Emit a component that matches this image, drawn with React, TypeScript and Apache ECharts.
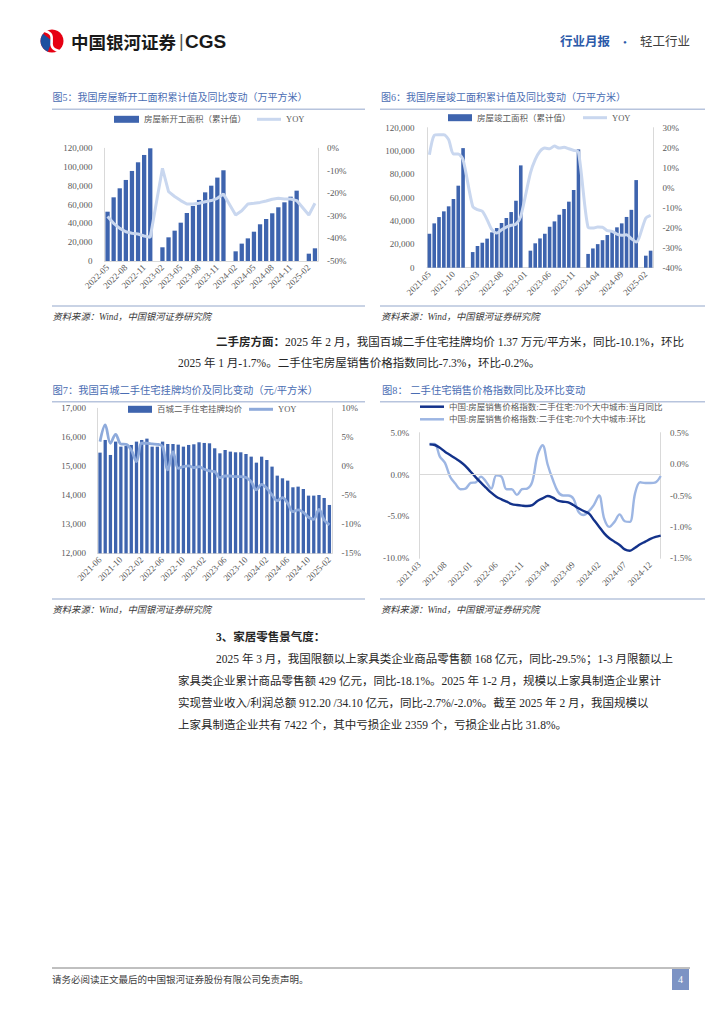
import React, { useEffect, useRef } from "react";
import * as echarts from "echarts";

const SERIF = "'Liberation Serif', 'Noto Sans CJK SC', serif";
const CJK = "'Liberation Serif', 'Noto Sans CJK SC', sans-serif";
const SANS = "'Noto Sans CJK SC', 'Liberation Sans', sans-serif";

// ---------- 图5 房屋新开工面积 ----------
const months5 = [
  "2022-05", "2022-06", "2022-07", "2022-08", "2022-09", "2022-10", "2022-11", "2022-12",
  "2023-01", "2023-02", "2023-03", "2023-04", "2023-05", "2023-06", "2023-07", "2023-08", "2023-09", "2023-10", "2023-11", "2023-12",
  "2024-01", "2024-02", "2024-03", "2024-04", "2024-05", "2024-06", "2024-07", "2024-08", "2024-09", "2024-10", "2024-11", "2024-12",
  "2025-01", "2025-02", "2025-03",
];
const newStartArea = [
  52500, 67800, 77400, 86300, 95900, 105100, 112900, 120000,
  null, 14600, 25200, 32300, 40800, 51100, 58600, 65000, 73100, 80200, 88800, 96600,
  null, 10300, 18500, 24100, 31200, 39100, 44700, 50800, 57200, 62500, 68500, 74900,
  null, 7800, 13500,
];
const newStartYoy = [
  -30.3, -33.3, -35.5, -37.0, -37.7, -38.0, -38.9, -39.5,
  null, -8.9, -19.2, -21.4, -23.2, -24.7, -24.7, -24.4, -23.7, -23.2, -22.2, -20.3,
  null, -29.6, -27.7, -24.7, -24.4, -24.0, -23.4, -22.6, -22.2, -22.5, -22.5, -23.2,
  null, -29.6, -24.4,
];

// ---------- 图6 房屋竣工面积 ----------
const months6 = [
  "2021-05", "2021-06", "2021-07", "2021-08", "2021-09", "2021-10", "2021-11", "2021-12",
  "2022-01", "2022-02", "2022-03", "2022-04", "2022-05", "2022-06", "2022-07", "2022-08", "2022-09", "2022-10", "2022-11", "2022-12",
  "2023-01", "2023-02", "2023-03", "2023-04", "2023-05", "2023-06", "2023-07", "2023-08", "2023-09", "2023-10", "2023-11", "2023-12",
  "2024-01", "2024-02", "2024-03", "2024-04", "2024-05", "2024-06", "2024-07", "2024-08", "2024-09", "2024-10", "2024-11", "2024-12",
  "2025-01", "2025-02", "2025-03",
];
const completedArea = [
  29100, 38000, 43400, 48300, 52600, 58900, 70300, 102500,
  null, 13400, 18600, 21400, 24900, 30300, 34000, 38300, 42600, 47700, 57400, 87700,
  null, 14600, 20900, 25100, 29100, 35100, 39700, 45400, 50300, 56600, 66600, 101400,
  null, 11800, 16500, 20200, 23600, 28000, 31000, 34600, 38000, 43500, 49600, 75100,
  null, 10300, 14600,
];
const completedYoy = [
  16.5, 26.2, 26.5, 26.5, 24.0, 16.8, 16.8, 14.0,
  null, -9.3, -11.0, -11.8, -16.0, -21.0, -22.7, -21.0, -19.7, -18.8, -18.2, -14.3,
  null, 7.3, 14.0, 18.2, 19.8, 19.5, 20.8, 19.8, 20.2, 19.5, 18.7, 17.8,
  null, -19.8, -20.2, -19.7, -19.8, -21.5, -21.8, -23.2, -23.8, -23.5, -25.5, -27.2,
  null, -15.2, -13.8,
];

// ---------- 图7 百城二手住宅挂牌均价 ----------
const months7 = [
  "2021-06", "2021-07", "2021-08", "2021-09", "2021-10", "2021-11", "2021-12",
  "2022-01", "2022-02", "2022-03", "2022-04", "2022-05", "2022-06", "2022-07", "2022-08", "2022-09", "2022-10", "2022-11", "2022-12",
  "2023-01", "2023-02", "2023-03", "2023-04", "2023-05", "2023-06", "2023-07", "2023-08", "2023-09", "2023-10", "2023-11", "2023-12",
  "2024-01", "2024-02", "2024-03", "2024-04", "2024-05", "2024-06", "2024-07", "2024-08", "2024-09", "2024-10", "2024-11", "2024-12",
  "2025-01", "2025-02",
];
const listingPrice = [
  15471, 15908, 15391, 15851, 15678, 15701, 15736,
  15851, 15908, 15954, 15678, 15678, 15851, 15770, 15770, 15747, 15678, 15736, 15759,
  15828, 15805, 15793, 15621, 15448, 15563, 15506, 15483, 15483, 15425, 15333, 15126,
  15333, 15218, 14989, 14678, 14586, 14506, 14276, 14299, 14218, 13989, 13989, 14011,
  13908, 13667,
];
const listingYoy = [
  4.25, 7.13, 3.97, 5.52, 3.85, 3.79, 2.82,
  0.8, 3.97, 3.97, 3.85, 3.79, 3.39, -0.63, 2.53, -0.34, -0.06, 0.06, -0.23,
  -0.06, -0.52, -0.8, -0.92, -1.95, -1.67, -1.67, -1.78, -1.78, -1.95, -2.64, -4.08,
  -3.1, -3.79, -4.94, -5.92, -5.4, -6.38, -7.82, -7.53, -7.93, -8.79, -9.14, -7.41,
  -9.25, -10.11,
];

// ---------- 图8 二手住宅销售价格指数 ----------
const months8 = [
  "2021-03", "2021-04", "2021-05", "2021-06", "2021-07", "2021-08", "2021-09", "2021-10", "2021-11", "2021-12",
  "2022-01", "2022-02", "2022-03", "2022-04", "2022-05", "2022-06", "2022-07", "2022-08", "2022-09", "2022-10", "2022-11", "2022-12",
  "2023-01", "2023-02", "2023-03", "2023-04", "2023-05", "2023-06", "2023-07", "2023-08", "2023-09", "2023-10", "2023-11", "2023-12",
  "2024-01", "2024-02", "2024-03", "2024-04", "2024-05", "2024-06", "2024-07", "2024-08", "2024-09", "2024-10", "2024-11", "2024-12",
  "2025-01", "2025-02",
];
const indexYoy = [
  null, null, 3.61, 3.53, 3.21, 2.73, 2.34, 1.94, 1.54, 1.02,
  0.34, -0.33, -0.97, -1.57, -2.16, -2.64, -2.96, -3.24, -3.52, -3.64, -3.71, -3.75,
  -3.64, -3.16, -2.84, -2.56, -2.76, -3.12, -3.24, -3.32, -3.64, -4.03, -4.35, -4.63,
  -5.43, -6.22, -7.02, -7.61, -8.01, -8.41, -8.93, -9.09, -8.73, -8.33, -8.01, -7.69,
  -7.45, -7.3,
];
const indexMom = [
  null, null, 0.32, 0.32, 0.12, 0.02, -0.2, -0.31, -0.4, -0.39,
  -0.3, -0.29, -0.2, -0.28, -0.39, -0.18, -0.2, -0.4, -0.4, -0.49, -0.4, -0.39,
  -0.28, 0.14, 0.3, -0.01, -0.25, -0.44, -0.5, -0.5, -0.55, -0.76, -0.81, -0.75,
  -0.65, -0.5, -0.87, -1.0, -0.92, -0.8, -0.91, -0.92, -0.47, -0.29, -0.3, -0.3,
  -0.29, -0.19,
];

const S5_BAR = "房屋新开工面积（累计值）";
const S6_BAR = "房屋竣工面积（累计值）";
const S7_BAR = "百城二手住宅挂牌均价";
const S8_A = "中国:房屋销售价格指数:二手住宅:70个大中城市:当月同比";
const S8_B = "中国:房屋销售价格指数:二手住宅:70个大中城市:环比";

const BAR_BLUE = "#3e64ae";
const PALE = "#c9d7ef";
const MID = "#8eaadb";
const NAVY = "#13328a";
const LIGHT8 = "#9db6e3";
const AXIS_GRAY = "#d9d9d9";
const LABEL_GRAY = "#595959";
const TITLE_BLUE = "#4a6db3";
const RULE = "#b7c4dd";
const BODY = "#262626";

const thousands = (v: number) => v.toLocaleString("en-US");

function catAxis(gridIndex: number, data: string[], interval: number, showLine = true, boundaryGap = true) {
  return {
    type: "category",
    gridIndex,
    data,
    boundaryGap,
    axisTick: { show: false },
    axisLine: { show: showLine, onZero: false, lineStyle: { color: AXIS_GRAY, width: 1 } },
    axisLabel: { interval, rotate: 45, fontSize: 9, fontFamily: SERIF, color: LABEL_GRAY, margin: 5 },
    splitLine: { show: false },
  };
}

function valAxis(gridIndex: number, position: string, min: number, max: number, interval: number, formatter: any, margin: number) {
  return {
    type: "value",
    gridIndex,
    position,
    min,
    max,
    interval,
    axisLine: { show: true, lineStyle: { color: AXIS_GRAY, width: 1 } },
    axisTick: { show: false },
    splitLine: { show: false },
    axisLabel: { formatter, fontSize: 9, fontFamily: SERIF, color: LABEL_GRAY, margin },
  };
}

function legend(left: number, cy: number, name: string, color: string, w: number, h: number) {
  return {
    left,
    top: cy - 6,
    padding: 0,
    orient: "horizontal",
    selectedMode: false,
    data: [name],
    icon: "rect",
    itemWidth: w,
    itemHeight: h,
    itemGap: 0,
    itemStyle: { color, borderWidth: 0 },
    textStyle: { fontSize: 8.5, fontFamily: CJK, color: LABEL_GRAY, lineHeight: 12 },
  };
}

function text(x: number, y: number, t: string, size: number, fill: string, extra: any = {}) {
  return {
    type: "text",
    x,
    y,
    silent: true,
    style: {
      text: t,
      fontSize: size,
      fontFamily: extra.fontFamily || CJK,
      fontWeight: extra.fontWeight || "normal",
      fontStyle: extra.fontStyle || "normal",
      fill,
      textAlign: extra.align || "left",
      textVerticalAlign: "middle",
      align: extra.align || "left",
      verticalAlign: "middle",
      rich: extra.rich,
    },
  };
}

function hline(x1: number, x2: number, y: number, color: string, w: number) {
  return { type: "line", silent: true, shape: { x1, y1: y, x2, y2: y }, style: { stroke: color, lineWidth: w } };
}

function buildOption() {
  const graphics: any[] = [];
  // header logo
  graphics.push({ type: "circle", silent: true, shape: { cx: 52, cy: 41, r: 11.5 }, style: { fill: "#e60012" } });
  graphics.push({
    type: "sector",
    silent: true,
    shape: { cx: 52, cy: 41, r: 11.5, r0: 0, startAngle: Math.PI * 0.62, endAngle: Math.PI * 1.22 },
    style: { fill: "#1d4fa0" },
  });
  graphics.push({
    type: "bezierCurve",
    silent: true,
    shape: { x1: 45, y1: 31, cpx1: 60, cpy1: 35, cpx2: 43, cpy2: 47, x2: 59, y2: 51 },
    style: { stroke: "#ffffff", lineWidth: 2.6, fill: "none" },
  });
  graphics.push(text(71, 41, "中国银河证券", 17.5, "#1a1a1a", { fontWeight: "bold", fontFamily: SANS }));
  graphics.push(text(179, 41, "|", 18, "#555555", { fontFamily: "'Liberation Sans', sans-serif" }));
  graphics.push(text(185, 41.5, "CGS", 19, "#1a1a1a", { fontWeight: "bold", fontFamily: "'Liberation Sans', 'Noto Sans', sans-serif" }));
  graphics.push(text(560, 42, "行业月报", 12.5, "#2c5aa9", { fontWeight: "bold" }));
  graphics.push(text(623, 42, "•", 11, "#2c5aa9"));
  graphics.push(text(640, 42, "轻工行业", 12.5, "#404040"));

  // figure titles & rules (top row)
  graphics.push(text(52.5, 97.3, "图5：我国房屋新开工面积累计值及同比变动（万平方米）", 10, TITLE_BLUE));
  graphics.push(text(381, 97.3, "图6：我国房屋竣工面积累计值及同比变动（万平方米）", 10, TITLE_BLUE));
  graphics.push(hline(52, 365, 109.3, RULE, 1.5));
  graphics.push(hline(380, 705, 109.3, RULE, 1.5));
  graphics.push(hline(52, 365, 306, RULE, 1.5));
  graphics.push(hline(380, 705, 306, RULE, 1.5));
  graphics.push(text(52.5, 316.5, "资料来源：Wind，中国银河证券研究院", 9.3, "#3a3a3a", { fontStyle: "italic" }));
  graphics.push(text(381, 316.5, "资料来源：Wind，中国银河证券研究院", 9.3, "#3a3a3a", { fontStyle: "italic" }));

  // paragraph 1
  graphics.push(
    text(216, 341.5, "{b|二手房方面：}2025 年 2 月，我国百城二手住宅挂牌均价 1.37 万元/平方米，同比-10.1%，环比", 11.5, BODY, {
      rich: { b: { fontWeight: "bold", fontSize: 11.5, fontFamily: CJK, fill: BODY, color: BODY } },
    })
  );
  graphics.push(text(178, 362.5, "2025 年 1 月-1.7%。二手住宅房屋销售价格指数同比-7.3%，环比-0.2%。", 11.5, BODY));

  // figure titles & rules (bottom row)
  graphics.push(text(52.5, 390.5, "图7：我国百城二手住宅挂牌均价及同比变动（元/平方米）", 10.3, TITLE_BLUE));
  graphics.push(text(382, 390.5, "图8： 二手住宅销售价格指数同比及环比变动", 10.3, TITLE_BLUE));
  graphics.push(hline(52, 365, 401.7, RULE, 1.5));
  graphics.push(hline(380, 705, 401.7, RULE, 1.5));
  graphics.push(hline(52, 365, 599, RULE, 1.5));
  graphics.push(hline(380, 705, 599, RULE, 1.5));
  graphics.push(text(52.5, 609.5, "资料来源：Wind，中国银河证券研究院", 9.3, "#3a3a3a", { fontStyle: "italic" }));
  graphics.push(text(381, 609.5, "资料来源：Wind，中国银河证券研究院", 9.3, "#3a3a3a", { fontStyle: "italic" }));

  // section 3
  graphics.push(text(216, 636.5, "3、家居零售景气度：", 11.5, BODY, { fontWeight: "bold" }));
  graphics.push(text(216, 659, "2025 年 3 月，我国限额以上家具类企业商品零售额 168 亿元，同比-29.5%；1-3 月限额以上", 11.5, BODY));
  graphics.push(text(178, 681, "家具类企业累计商品零售额 429 亿元，同比-18.1%。2025 年 1-2 月，规模以上家具制造企业累计", 11.5, BODY));
  graphics.push(text(178, 703, "实现营业收入/利润总额 912.20 /34.10 亿元，同比-2.7%/-2.0%。截至 2025 年 2 月，我国规模以", 11.5, BODY));
  graphics.push(text(178, 725, "上家具制造企业共有 7422 个，其中亏损企业 2359 个，亏损企业占比 31.8%。", 11.5, BODY));

  // footer
  graphics.push(hline(52, 690, 968, "#808080", 1));
  graphics.push(text(52, 980, "请务必阅读正文最后的中国银河证券股份有限公司免责声明。", 9.5, "#404040"));
  graphics.push({ type: "rect", silent: true, shape: { x: 672, y: 969, width: 17, height: 21 }, style: { fill: "#7c93c4" } });
  graphics.push(text(680.5, 979.5, "4", 10, "#ffffff", { align: "center", fontFamily: SERIF }));

  return {
    animation: false,
    backgroundColor: "#ffffff",
    grid: [
      { left: 104.5, top: 148.3, width: 213.5, height: 112.7 },
      { left: 427, top: 127.7, width: 226, height: 140 },
      { left: 97.4, top: 408.3, width: 234.6, height: 145 },
      { left: 419.3, top: 432.7, width: 241.4, height: 125.6 },
    ],
    xAxis: [
      catAxis(0, months5, 2),
      catAxis(1, months6, 4),
      catAxis(2, months7, 3),
      catAxis(3, months8, 4, false, false),
    ],
    yAxis: [
      valAxis(0, "left", 0, 120000, 20000, thousands, 12),
      valAxis(0, "right", -50, 0, 10, (v: number) => `${v}%`, 9),
      valAxis(1, "left", 0, 120000, 20000, thousands, 12.5),
      valAxis(1, "right", -40, 30, 10, (v: number) => `${v}%`, 9.5),
      valAxis(2, "left", 12000, 17000, 1000, thousands, 11.5),
      valAxis(2, "right", -15, 10, 5, (v: number) => `${v}%`, 9.5),
      valAxis(3, "left", -10, 5, 5, (v: number) => `${v.toFixed(1)}%`, 10),
      valAxis(3, "right", -1.5, 0.5, 0.5, (v: number) => `${v.toFixed(1)}%`, 9.3),
    ],
    legend: [
      legend(114, 119.3, S5_BAR, BAR_BLUE, 25, 7),
      legend(257, 119.3, "YOY", PALE, 24, 3),
      legend(448, 117.7, S6_BAR, BAR_BLUE, 24, 7),
      legend(583, 117.7, "YOY", PALE, 24, 3),
      legend(128, 409.3, S7_BAR, BAR_BLUE, 24, 7),
      legend(249, 409.3, "YOY", MID, 24, 3),
      legend(420, 406.7, S8_A, NAVY, 24, 2.5),
      legend(420, 419.3, S8_B, LIGHT8, 24, 2.5),
    ],
    series: [
      { type: "bar", name: S5_BAR, xAxisIndex: 0, yAxisIndex: 0, data: newStartArea, barWidth: 4.3, itemStyle: { color: BAR_BLUE } },
      {
        type: "line", name: "YOY", xAxisIndex: 0, yAxisIndex: 1, data: newStartYoy, symbol: "none", connectNulls: true,
        lineStyle: { color: PALE, width: 3 }, itemStyle: { color: PALE },
      },
      { type: "bar", name: S6_BAR, xAxisIndex: 1, yAxisIndex: 2, data: completedArea, barWidth: 3.6, itemStyle: { color: BAR_BLUE } },
      {
        type: "line", name: "YOY", xAxisIndex: 1, yAxisIndex: 3, data: completedYoy, symbol: "none", connectNulls: true, smooth: 0.25,
        lineStyle: { color: PALE, width: 3 }, itemStyle: { color: PALE },
      },
      { type: "bar", name: S7_BAR, xAxisIndex: 2, yAxisIndex: 4, data: listingPrice, barWidth: 3.3, itemStyle: { color: BAR_BLUE } },
      {
        type: "line", name: "YOY", xAxisIndex: 2, yAxisIndex: 5, data: listingYoy, symbol: "none", smooth: 0.35,
        lineStyle: { color: MID, width: 2.8 }, itemStyle: { color: MID },
      },
      {
        type: "line", name: S8_A, xAxisIndex: 3, yAxisIndex: 6, data: indexYoy, symbol: "none", smooth: 0.35,
        lineStyle: { color: NAVY, width: 2.4 }, itemStyle: { color: NAVY }, z: 3,
        markLine: {
          silent: true, symbol: "none", label: { show: false },
          lineStyle: { color: AXIS_GRAY, type: "solid", width: 1 },
          data: [{ yAxis: 0 }],
        },
      },
      {
        type: "line", name: S8_B, xAxisIndex: 3, yAxisIndex: 7, data: indexMom, symbol: "none", smooth: 0.35,
        lineStyle: { color: LIGHT8, width: 2.4 }, itemStyle: { color: LIGHT8 }, z: 2,
      },
    ],
    graphic: graphics,
  };
}

export default function App() {
  const ref = useRef<HTMLDivElement>(null);
  useEffect(() => {
    if (!ref.current) return;
    const chart = echarts.init(ref.current, undefined, { renderer: "svg", width: 724, height: 1024 });
    chart.setOption(buildOption() as any);
    return () => chart.dispose();
  }, []);
  return (
    <div
      ref={ref}
      style={{ position: "absolute", left: 0, top: 0, width: 724, height: 1024, background: "#ffffff" }}
    />
  );
}
